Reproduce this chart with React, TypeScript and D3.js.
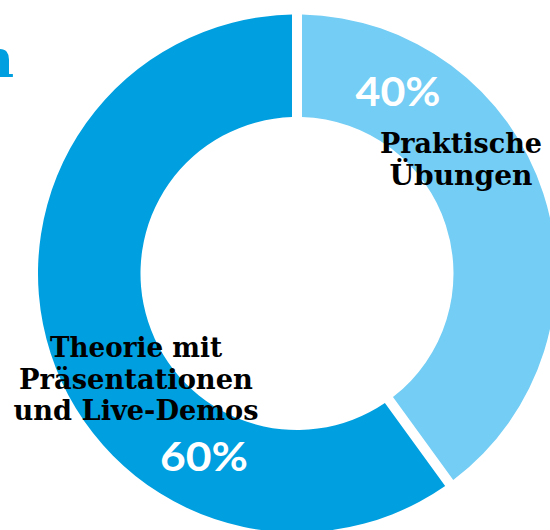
import React from "react";
import * as d3 from "d3";

const categories = ["Praktische Übungen", "Theorie mit Präsentationen und Live-Demos"];
const values = [40, 60];
const percentLabels = ["40%", "60%"];
const labelLines = [["Praktische", "Übungen"], ["Theorie mit", "Präsentationen", "und Live-Demos"]];
const colors = ["#73cdf4", "#009fdf"];

const W = 550;
const H = 530;
const cx = 297;
const cy = 273.5;
const outerR = 259;
const innerR = 156.5;

export default function App() {
  const pie = d3.pie<number>().sort(null).value((d) => d).startAngle(0).endAngle(2 * Math.PI);
  const arcs = pie(values);
  const padR = Math.sqrt(innerR * innerR + outerR * outerR);
  const arc = d3
    .arc<d3.PieArcDatum<number>>()
    .innerRadius(innerR)
    .outerRadius(outerR)
    .padAngle(10 / padR)
    .padRadius(padR);

  const serif = "'DejaVu Serif', 'Liberation Serif', serif";
  const sans = "Lato, 'Open Sans', 'DejaVu Sans', sans-serif";

  const pctPos = [
    { x: 398, y: 106, len: 85 },
    { x: 204, y: 471, len: 88 },
  ];
  const labelPos = [
    { x: 461, y: 153, lens: [162, 143] },
    { x: 136, y: 357, lens: [172, 234, 245] },
  ];
  const lineH = 31.5;

  return (
    <svg
      width={W}
      height={H}
      style={{ position: "absolute", left: 0, top: 0, display: "block", background: "#fff" }}
    >
      <text
        x={14}
        y={77}
        textAnchor="end"
        fill="#009fdf"
        fontFamily={serif}
        fontWeight="bold"
        fontSize={52}
      >
        n
      </text>
      <g transform={`translate(${cx},${cy})`}>
        {arcs.map((a, i) => (
          <path key={categories[i]} d={arc(a) || ""} fill={colors[i]} />
        ))}
      </g>
      {percentLabels.map((p, i) => (
        <text
          key={p}
          x={pctPos[i].x}
          y={pctPos[i].y}
          textAnchor="middle"
          fill="#fff"
          fontFamily={sans}
          fontWeight={700}
          fontSize={41}
          textLength={pctPos[i].len}
          lengthAdjust="spacingAndGlyphs"
        >
          {p}
        </text>
      ))}
      {labelLines.map((lines, i) => (
        <text
          key={categories[i]}
          textAnchor="middle"
          fill="#000"
          fontFamily={serif}
          fontWeight="bold"
          fontSize={27}
        >
          {lines.map((ln, j) => (
            <tspan
              key={ln}
              x={labelPos[i].x}
              y={labelPos[i].y + j * lineH}
              textLength={labelPos[i].lens[j]}
              lengthAdjust="spacingAndGlyphs"
            >
              {ln}
            </tspan>
          ))}
        </text>
      ))}
    </svg>
  );
}
